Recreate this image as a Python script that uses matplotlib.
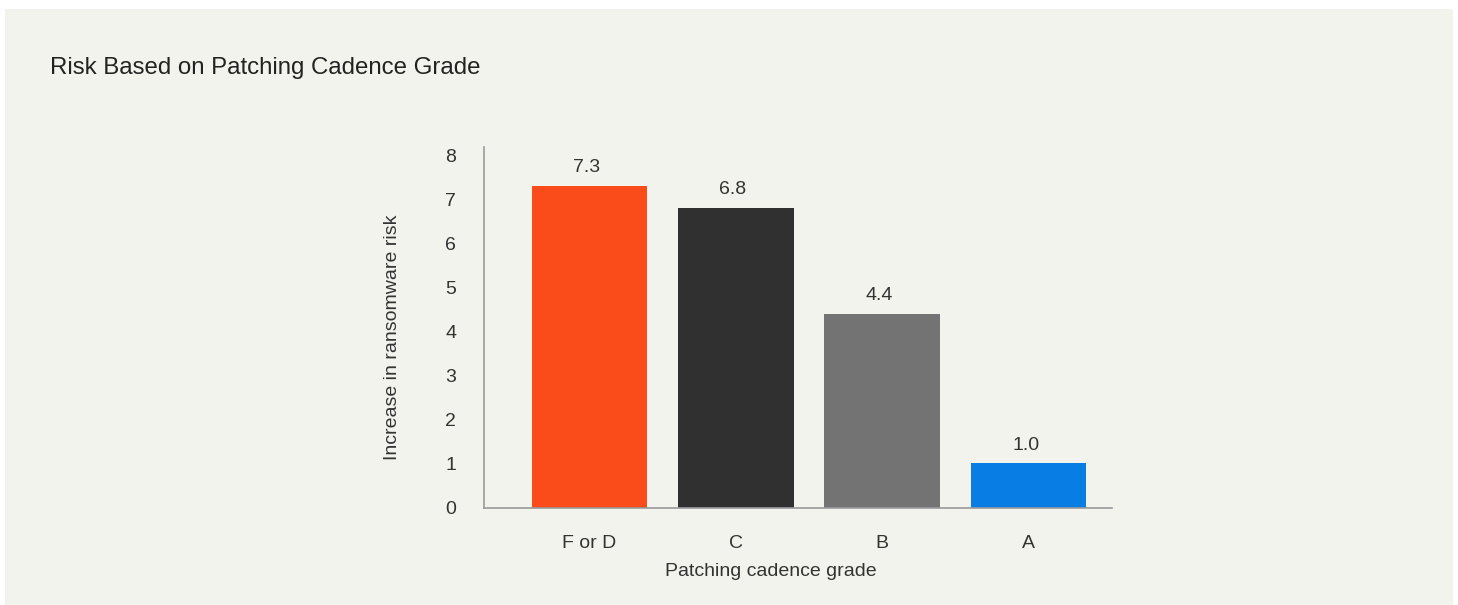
import matplotlib
matplotlib.use('Agg')
import matplotlib.pyplot as plt
from matplotlib.patches import Rectangle

# Risk multipliers per patching cadence grade
grades = ['F or D', 'C', 'B', 'A']
risk_increase = [7.3, 6.8, 4.4, 1.0]
bar_colors = ['#FA4B1A', '#303030', '#737373', '#087DE3']
y_ticks = [0, 1, 2, 3, 4, 5, 6, 7, 8]

plt.rcParams['font.family'] = ['Liberation Sans', 'DejaVu Sans']
text_color = '#333333'
panel_color = '#F3F3EE'
label_size = 14

fig = plt.figure(figsize=(14.58, 6.05), dpi=100, facecolor='white')
W, H = 1458, 605

# light panel behind the whole chart
fig.patches.append(Rectangle((5 / W, 0), (1453 - 5) / W, (H - 9) / H,
                             transform=fig.transFigure, facecolor=panel_color,
                             edgecolor='none', zorder=-10))

fig.text(50 / W, 1 - 68 / H, 'Risk Based on Patching Cadence Grade',
         fontsize=17.3, color='#222222', ha='left', va='center')

ax = fig.add_axes([484 / W, 1 - 507.5 / H, (1112 - 484) / W, (507.5 - 147) / H])
ax.set_facecolor('none')

x = range(len(grades))
bars = ax.bar(x, risk_increase, width=0.79, color=bar_colors, zorder=2)

for bar, val in zip(bars, risk_increase):
    ax.annotate(f'{val:.1f}', (bar.get_x() + bar.get_width() / 2, bar.get_height()),
                xytext=(-2, 7), textcoords='offset points', ha='center', va='bottom',
                fontsize=label_size, color=text_color)

ax.set_xlim(-0.72, 3.57)
ax.set_ylim(0, 8.19)
ax.set_yticks(y_ticks)
ax.set_xticks(list(x))
ax.set_xticklabels(grades)

ax.tick_params(axis='both', length=0, labelsize=label_size, labelcolor=text_color)
ax.tick_params(axis='y', pad=20)
ax.tick_params(axis='x', pad=20)

ax.set_xlabel('Patching cadence grade', fontsize=label_size, color=text_color)
ax.set_ylabel('Increase in ransomware risk', fontsize=label_size, color=text_color)
ax.xaxis.set_label_coords(0.457, -0.153)
ax.yaxis.set_label_coords(-0.132, 0.473)

for side in ['top', 'right']:
    ax.spines[side].set_visible(False)
for side in ['left', 'bottom']:
    ax.spines[side].set_color('#9A9A9A')
    ax.spines[side].set_linewidth(1.2)

fig.savefig('out.png', dpi=100, facecolor=fig.get_facecolor())
